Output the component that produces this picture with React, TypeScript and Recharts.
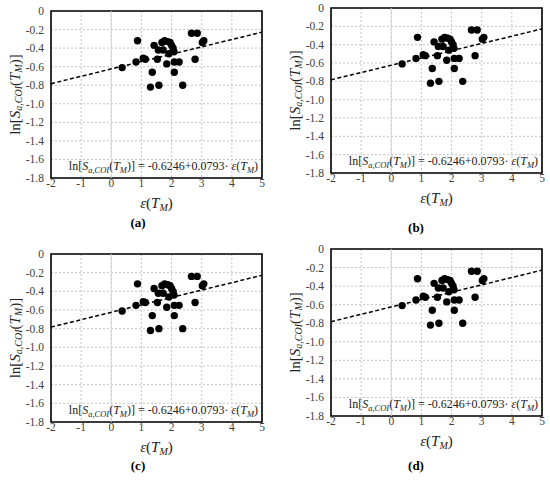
import React from "react";
import { ScatterChart, Scatter, XAxis, YAxis, CartesianGrid, ReferenceLine, ReferenceArea } from "recharts";

// epsilon(T_M) values of the records
const X_VALUES = [0.36, 0.82, 0.87, 1.06, 1.13, 1.3, 1.36, 1.42, 1.53, 1.56, 1.58, 1.68, 1.72, 1.77, 1.84, 1.87, 1.91, 1.95, 2.0, 2.05, 2.08, 2.09, 2.25, 2.09, 2.37, 2.66, 2.85, 2.78, 3.02, 3.07];
// ln[Sa,COI(T_M)] values of the records
const Y_VALUES = [-0.61, -0.55, -0.32, -0.51, -0.52, -0.82, -0.66, -0.37, -0.52, -0.42, -0.8, -0.34, -0.42, -0.32, -0.57, -0.33, -0.46, -0.34, -0.37, -0.4, -0.44, -0.55, -0.55, -0.66, -0.8, -0.24, -0.24, -0.52, -0.34, -0.32];
const FIT_INTERCEPT = -0.6246;
const FIT_SLOPE = 0.0793;
const X_TICKS = [-2, -1, 0, 1, 2, 3, 4, 5];
const Y_TICKS = [0, -0.2, -0.4, -0.6, -0.8, -1.0, -1.2, -1.4, -1.6, -1.8];
const PANEL_LABELS = ["(a)", "(b)", "(c)", "(d)"];

const points = X_VALUES.map((x, i) => ({ x, y: Y_VALUES[i] }));
const fit = (x: number) => FIT_INTERCEPT + FIT_SLOPE * x;

const SERIF = "'Liberation Serif', 'Times New Roman', serif";

type PanelCfg = {
  left: number; top: number; w: number; h: number;
  pl: number; pt: number; pr: number; pb: number;
  labelX: number; labelY: number;
};

const PANELS: PanelCfg[] = [
  { left: 0, top: 0, w: 275, h: 240, pl: 51, pt: 11, pr: 262, pb: 178, labelX: 138, labelY: 222 },
  { left: 275, top: 0, w: 275, h: 240, pl: 56, pt: 8, pr: 267, pb: 173, labelX: 141, labelY: 227 },
  { left: 0, top: 240, w: 275, h: 241, pl: 51, pt: 14, pr: 262, pb: 182, labelX: 138, labelY: 225 },
  { left: 275, top: 240, w: 275, h: 241, pl: 56, pt: 9, pr: 267, pb: 176, labelX: 141, labelY: 225 },
];

const Dot = (props: any) => {
  const { cx, cy } = props;
  if (cx == null || cy == null) return null;
  return <circle cx={cx} cy={cy} r={3.7} fill="#000" />;
};

const fmtY = (v: number) => (v === 0 ? "0" : v.toFixed(1));

const XTick = (props: any) => {
  const { x, y, payload } = props;
  return (
    <text x={x} y={y + 9} textAnchor="middle" fontFamily={SERIF} fontSize={11.5} fill="#404040">
      {String(payload.value)}
    </text>
  );
};

const YTick = (props: any) => {
  const { x, y, payload } = props;
  return (
    <text x={x - 7} y={y + 4} textAnchor="end" fontFamily={SERIF} fontSize={11.5} fill="#404040">
      {fmtY(payload.value)}
    </text>
  );
};

function Panel({ cfg, label }: { cfg: PanelCfg; label: string }) {
  const { w, h, pl, pt, pr, pb } = cfg;
  const cxPlot = (pl + pr) / 2;
  const cyPlot = (pt + pb) / 2;
  return (
    <div style={{ position: "absolute", left: cfg.left, top: cfg.top, width: w, height: h }}>
      <ScatterChart width={w} height={h} margin={{ top: pt, right: w - pr, bottom: 0, left: 0 }}>
        <CartesianGrid stroke="#c4c4c4" strokeDasharray="2 2" />
        <XAxis
          type="number"
          dataKey="x"
          domain={[-2, 5]}
          ticks={X_TICKS}
          interval={0}
          height={h - pb}
          axisLine={false}
          tickLine={false}
          tickSize={0}
          tickMargin={0}
          tick={<XTick />}
        />
        <YAxis
          type="number"
          dataKey="y"
          domain={[-1.8, 0]}
          ticks={Y_TICKS}
          interval={0}
          width={pl}
          axisLine={false}
          tickLine={false}
          tickSize={0}
          tickMargin={0}
          tick={<YTick />}
        />
        <ReferenceLine x={0} stroke="#d4d4d4" strokeWidth={1} />
        <ReferenceLine
          segment={[{ x: -2, y: fit(-2) }, { x: 5, y: fit(5) }]}
          stroke="#000"
          strokeWidth={1.5}
          strokeDasharray="4 2.5"
        />
        <Scatter data={points} shape={Dot} isAnimationActive={false} />
        <ReferenceArea x1={-2} x2={5} y1={-1.8} y2={0} fill="none" fillOpacity={0} stroke="#000" strokeWidth={1.6} />
      </ScatterChart>
      <svg
        width={w}
        height={h}
        style={{ position: "absolute", left: 0, top: 0, pointerEvents: "none" }}
      >
        <text
          x={pl - 36}
          y={cyPlot}
          transform={`rotate(-90 ${pl - 36} ${cyPlot})`}
          textAnchor="middle"
          dominantBaseline="central"
          fontFamily={SERIF}
          fontSize={15}
          fill="#222"
        >
          ln[<tspan fontStyle="italic">S</tspan>
          <tspan fontStyle="italic" fontSize={10} dy={3}>a,COI</tspan>
          <tspan dy={-3}>(</tspan>
          <tspan fontStyle="italic">T</tspan>
          <tspan fontStyle="italic" fontSize={10} dy={3}>M</tspan>
          <tspan dy={-3}>)]</tspan>
        </text>
        <text
          x={cxPlot}
          y={pb + 30}
          textAnchor="middle"
          fontFamily={SERIF}
          fontSize={15}
          fill="#222"
        >
          <tspan fontStyle="italic">ε</tspan>(<tspan fontStyle="italic">T</tspan>
          <tspan fontStyle="italic" fontSize={10} dy={3}>M</tspan>
          <tspan dy={-3}>)</tspan>
        </text>
        <text
          x={pr - 4}
          y={pb - 8}
          textAnchor="end"
          fontFamily={SERIF}
          fontSize={12}
          fill="#222"
        >
          ln[<tspan fontStyle="italic">S</tspan>
          <tspan fontStyle="italic" fontSize={8.5} dy={2.5}>a,COI</tspan>
          <tspan dy={-2.5}>(</tspan>
          <tspan fontStyle="italic">T</tspan>
          <tspan fontStyle="italic" fontSize={8.5} dy={2.5}>M</tspan>
          <tspan dy={-2.5}>)] = -0.6246+0.0793· </tspan>
          <tspan fontStyle="italic">ε</tspan>(<tspan fontStyle="italic">T</tspan>
          <tspan fontStyle="italic" fontSize={8.5} dy={2.5}>M</tspan>
          <tspan dy={-2.5}>)</tspan>
        </text>
        <text
          x={cfg.labelX}
          y={cfg.labelY + 4.5}
          textAnchor="middle"
          fontFamily={SERIF}
          fontSize={13}
          fontWeight="bold"
          fill="#000"
        >
          {label}
        </text>
      </svg>
    </div>
  );
}

export default function App() {
  return (
    <div style={{ position: "absolute", left: 0, top: 0, width: 550, height: 481, background: "#fff" }}>
      {PANELS.map((cfg, i) => (
        <Panel key={i} cfg={cfg} label={PANEL_LABELS[i]} />
      ))}
    </div>
  );
}
